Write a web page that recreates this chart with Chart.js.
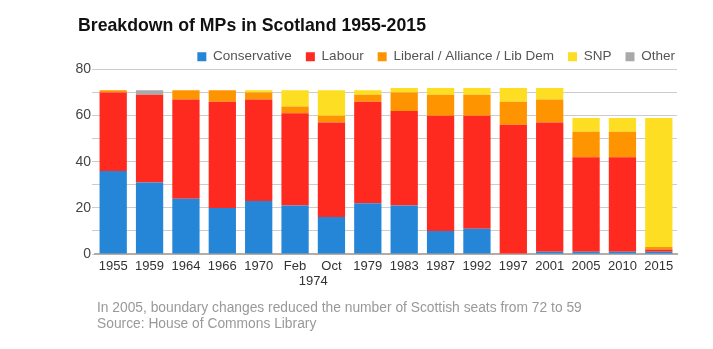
<!DOCTYPE html>
<html><head><meta charset="utf-8">
<script src="https://cdn.jsdelivr.net/npm/chart.js@4/dist/chart.umd.min.js"></script>
<style>
html,body{margin:0;padding:0;background:#fff;}
#wrap{position:relative;width:713px;height:349px;font-family:"Liberation Sans",Arial,sans-serif;}
#title{position:absolute;left:78px;top:15px;font-size:17.7px;font-weight:bold;color:#111;white-space:nowrap;}
#note{position:absolute;left:97px;top:300px;font-size:13.8px;line-height:16px;color:#999;white-space:nowrap;}
canvas{position:absolute;left:0;top:0;}
</style></head>
<body><div id="wrap">
<canvas id="c" width="713" height="349"></canvas>
<div id="title">Breakdown of MPs in Scotland 1955-2015</div>
<div id="note">In 2005, boundary changes reduced the number of Scottish seats from 72 to 59<br>Source: House of Commons Library</div>
</div>
<script>
const categories = ['1955','1959','1964','1966','1970','Feb 1974','Oct 1974','1979','1983','1987','1992','1997','2001','2005','2010','2015'];
const tickLabels = ['1955','1959','1964','1966','1970','Feb','Oct','1979','1983','1987','1992','1997','2001','2005','2010','2015'];
const conservative = [36,31,24,20,23,21,16,22,21,10,11,0,1,1,1,1];
const labour       = [34,38,43,46,44,40,41,44,41,50,49,56,56,41,41,1];
const liberal      = [1,0,4,5,3,3,3,3,8,9,9,10,10,11,11,1];
const snp          = [0,0,0,0,1,7,11,2,2,3,3,6,5,6,6,56];
const other        = [0,2,0,0,0,0,0,0,0,0,0,0,0,0,0,0];
const yTicks = [0,20,40,60,80];

const FONT = '"Liberation Sans", Arial, sans-serif';
const mk = (label, data, color) => ({label, data, backgroundColor: color, borderWidth: 0, barPercentage: 0.75, categoryPercentage: 1.0});

const layoutPlugin = {
  id: 'layoutPlugin',
  afterInit(chart) {
    const lg = chart.legend;
    if (lg) {
      const orig = lg.fit.bind(lg);
      lg.fit = function () { orig(); this.height -= 4; };
    }
  },
  afterDraw(chart) {
    const x = chart.scales.x, ctx = chart.ctx;
    const px = (x.getPixelForValue(5) + x.getPixelForValue(6)) / 2;
    ctx.save();
    ctx.font = '13px ' + FONT;
    ctx.fillStyle = '#333';
    ctx.textAlign = 'center';
    ctx.textBaseline = 'middle';
    ctx.fillText('1974', px, chart.chartArea.bottom + 27);
    ctx.restore();
  }
};

new Chart(document.getElementById('c'), {
  type: 'bar',
  data: {
    labels: categories,
    datasets: [
      mk('Conservative', conservative, '#2586d8'),
      mk('Labour', labour, '#fe291f'),
      mk('Liberal / Alliance / Lib Dem', liberal, '#fe9500'),
      mk('SNP', snp, '#fede22'),
      mk('Other', other, '#a9a9a9')
    ]
  },
  options: {
    responsive: false,
    animation: false,
    layout: {padding: {left: 0, right: 24, top: 36, bottom: 0}},
    plugins: {
      tooltip: {enabled: false},
      title: {display: false},
      legend: {
        position: 'top', align: 'end',
        labels: {boxWidth: 9, boxHeight: 9, padding: 14, color: '#555', font: {family: FONT, size: 13.5}}
      }
    },
    scales: {
      x: {
        stacked: true,
        grid: {display: false, drawTicks: false},
        border: {display: true, color: '#b5aca5', width: 2},
        ticks: {color: '#333', font: {family: FONT, size: 13}, padding: 5, maxRotation: 0, autoSkip: false,
          callback: (v, i) => tickLabels[i]},
        afterFit: s => { s.height = 95; }
      },
      y: {
        stacked: true, min: 0, max: 80,
        afterBuildTicks: s => { s.ticks = [0,10,20,30,40,50,60,70,80].map(v => ({value: v})); },
        grid: {color: '#cccccc', lineWidth: 1, drawTicks: true, tickLength: 3, tickColor: '#cccccc'},
        border: {display: false},
        ticks: {color: '#444', font: {family: FONT, size: 14}, padding: 1,
          callback: v => yTicks.includes(v) ? String(v) : ''},
        afterFit: s => { s.width = 95; }
      },
      yR: {
        position: 'right', display: true,
        grid: {display: false, drawTicks: false},
        border: {display: false},
        ticks: {display: false},
        afterFit: s => { s.width = 12; }
      }
    }
  },
  plugins: [layoutPlugin]
});
</script>
</body></html>
